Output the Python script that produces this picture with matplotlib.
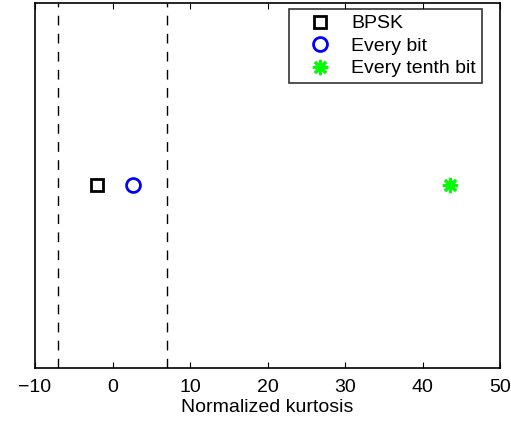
import matplotlib
matplotlib.use("Agg")
import matplotlib.pyplot as plt

plt.rcParams["font.family"] = ["Liberation Sans", "DejaVu Sans"]

# Normalized kurtosis of each signal
bpsk_k = [-2.0]
every_bit_k = [2.6]
every_tenth_k = [43.5]
thresholds = [-7.07, 7.07]

fig = plt.figure(figsize=(5.11, 4.23), dpi=100)
ax = fig.add_axes([35 / 511, 55 / 423, 465 / 511, 365 / 423])

for t in thresholds:
    ax.axvline(t, color="k", ls="--", lw=1.0, dashes=(7, 6))

ax.plot(bpsk_k, [0], ls="none", marker="s", ms=8, mfc="none", mec="k",
        mew=2, label="BPSK")
ax.plot(every_bit_k, [0], ls="none", marker="o", ms=10, mfc="none", mec="b",
        mew=2, label="Every bit")
ax.plot(every_tenth_k, [0], ls="none", marker=(8, 2, 0), ms=11, mec="#00ff00",
        mew=2, label="Every tenth bit")

ax.set_xlim(-10, 50)
ax.set_ylim(-1, 1)
ax.set_xticks(range(-10, 51, 10))
ax.set_xticklabels(["\u221210", "0", "10", "20", "30", "40", "50"])
ax.set_yticks([])
ax.tick_params(axis="x", direction="in", top=True, labelsize=14, length=4, pad=8)
for s in ax.spines.values():
    s.set_linewidth(1.2)
ax.set_xlabel("Normalized kurtosis", fontsize=14, labelpad=2)

leg = ax.legend(loc="upper right", bbox_to_anchor=(482 / 511, 1 - 9 / 423),
                bbox_transform=fig.transFigure, borderaxespad=0,
                numpoints=1, fontsize=14, frameon=True,
                fancybox=False, edgecolor="k", handletextpad=0.3,
                handlelength=2.6, labelspacing=0.25, borderpad=0.3)
leg.get_frame().set_linewidth(1.2)

fig.savefig("out.png", dpi=100)
